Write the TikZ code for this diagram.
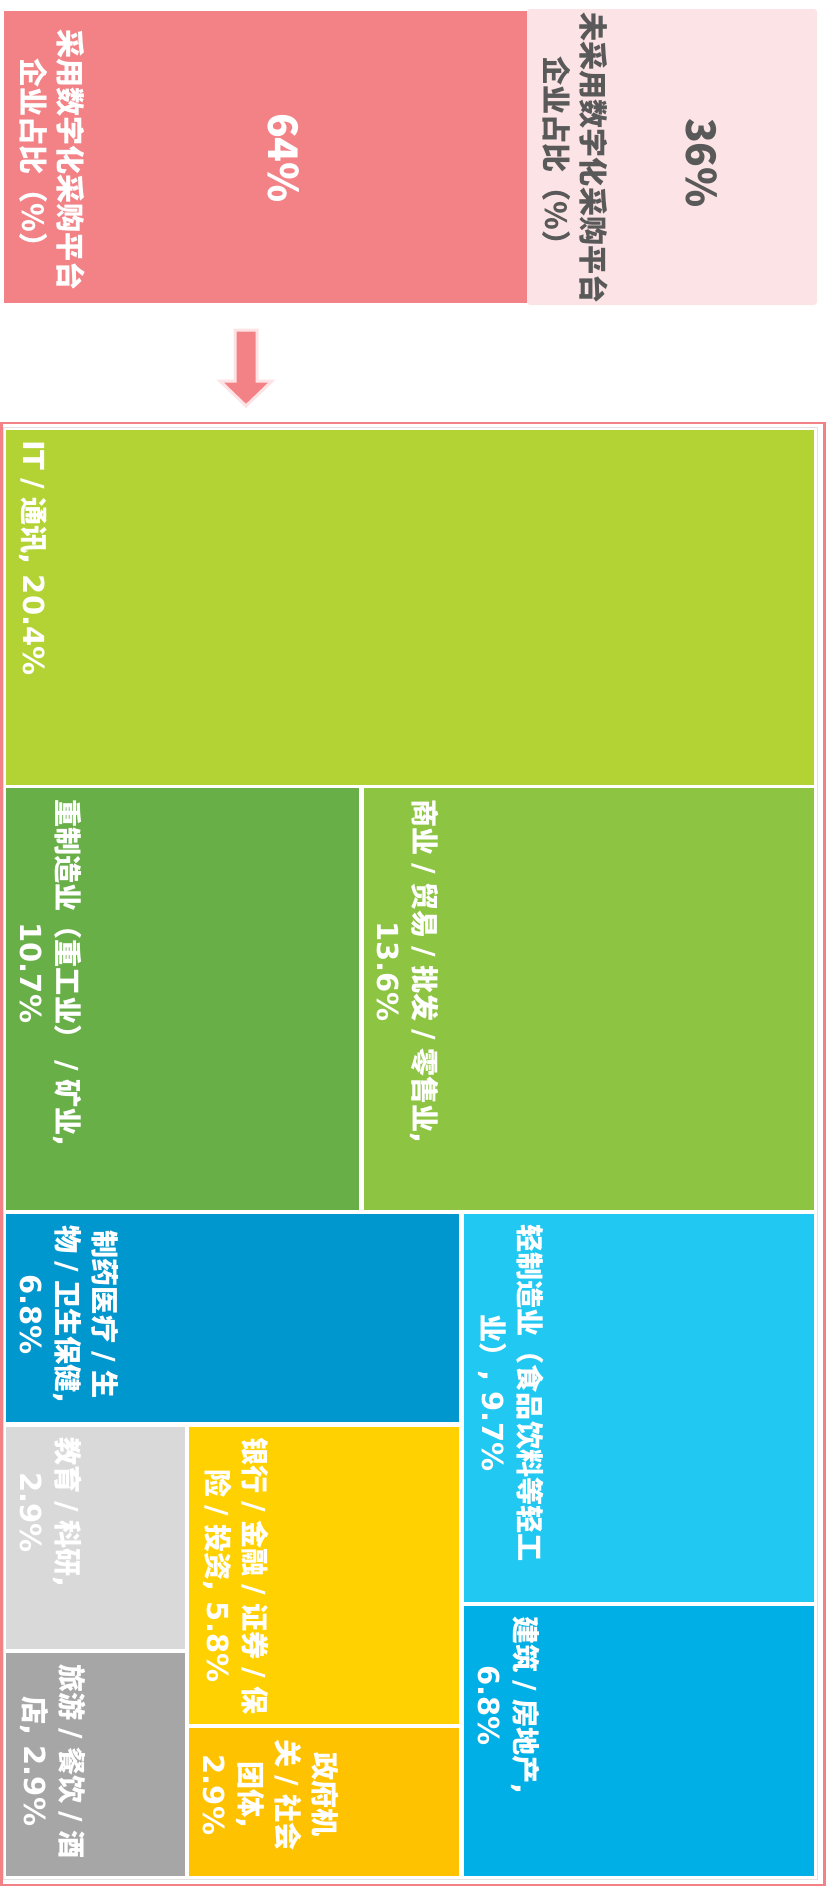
\documentclass[tikz,border=0pt]{standalone}
\usepackage{fontspec}
\setmainfont{DejaVu Sans}
\newfontfamily\cj{Noto Sans CJK SC}[Scale=0.97]
\newcommand\C[1]{{\cj #1}}
\newcommand\Sl{{\normalfont\bfseries\kern.28em/\kern.28em}}
\definecolor{pinkD}{HTML}{F28286}
\definecolor{pinkL}{HTML}{FCE4E6}
\definecolor{pinkE}{HTML}{FDE3E5}
\definecolor{grayT}{HTML}{595959}
\definecolor{cIT}{HTML}{B3D335}
\definecolor{cShang}{HTML}{8DC441}
\definecolor{cZhong}{HTML}{67AF46}
\definecolor{cQing}{HTML}{20C8F2}
\definecolor{cJian}{HTML}{00AFE5}
\definecolor{cYao}{HTML}{0097CF}
\definecolor{cYin}{HTML}{FFD100}
\definecolor{cZheng}{HTML}{FFC200}
\definecolor{cJiao}{HTML}{D9D9D9}
\definecolor{cLv}{HTML}{A6A6A6}
\definecolor{innerG}{HTML}{E2E2E2}
\begin{document}
\begin{tikzpicture}[x=1pt,y=-1pt,
  tile/.style={inner sep=0pt,outer sep=0pt,anchor=north west,draw=none},
  lab/.style={rotate=-90,anchor=south west,inner sep=0pt,align=center,text=white,
    font=\bfseries\fontsize{29}{37}\selectfont},
  toplab/.style={rotate=-90,anchor=center,inner sep=0pt,align=center,
    font=\bfseries\fontsize{30}{37}\selectfont},
  bignum/.style={rotate=-90,anchor=center,inner sep=0pt,
    font=\bfseries\fontsize{42}{42}\selectfont}]
\useasboundingbox (0,0) rectangle (828,1887);

% top comparison
\node[tile,fill=pinkL,rounded corners=3pt,minimum width=290pt,minimum height=296pt] (no) at (527,9) {};
\node[tile,fill=pinkD,minimum width=523pt,minimum height=292pt] (yes) at (4,11) {};
\node[toplab,text=white] (yesL) at (52,160) {\C{采用数字化采购平台}\\\C{企业占比（\%）}};
\node[bignum,text=white] (yesV) at (284,158) {\C{64\%}};
\node[toplab,text=grayT] (noL) at (575,158) {\C{未采用数字化采购平台}\\\C{企业占比（\%）}};
\node[bignum,text=grayT] (noV) at (702,163) {\C{36\%}};

% block arrow
\draw[fill=pinkD,draw=pinkE,line width=3pt,line join=miter]
  (235,330) -- (257,330) -- (257,381) -- (272,381) -- (246,406) -- (220,381) -- (235,381) -- cycle;

% frame
\draw[pinkD,line width=2.5pt] (1.5,423) rectangle (824.5,1885);
\draw[innerG,line width=1pt] (3.5,427.5) rectangle (817,1879.5);

% treemap tiles
\node[tile,fill=cIT,minimum width=808pt,minimum height=355pt] (it) at (6,430) {};
\node[tile,fill=cZhong,minimum width=353pt,minimum height=422pt] (zhong) at (6,788) {};
\node[tile,fill=cShang,minimum width=450pt,minimum height=422pt] (shang) at (364,788) {};
\node[tile,fill=cYao,minimum width=453pt,minimum height=208pt] (yao) at (6,1214) {};
\node[tile,fill=cQing,minimum width=350pt,minimum height=388pt] (qing) at (464,1214) {};
\node[tile,fill=cJian,minimum width=350pt,minimum height=270pt] (jian) at (464,1606) {};
\node[tile,fill=cJiao,minimum width=179pt,minimum height=222pt] (jiao) at (6,1427) {};
\node[tile,fill=cLv,minimum width=179pt,minimum height=223pt] (lv) at (6,1653) {};
\node[tile,fill=cYin,minimum width=270pt,minimum height=297pt] (yin) at (189,1427) {};
\node[tile,fill=cZheng,minimum width=270pt,minimum height=148pt] (zheng) at (189,1728) {};

% labels
\node[lab] (itL) at ([shift={(13,10)}]it.north west) {IT\Sl\C{通讯}, 20.4\%};
\node[lab] (zhongL) at ([shift={(14,11)}]zhong.north west) {\C{重制造业（重工业）}\Sl\C{矿业}, \\ 10.7\%};
\node[lab] (shangL) at ([shift={(13,11)}]shang.north west) {\C{商业\Sl 贸易\Sl 批发\Sl 零售业}, \\ 13.6\%};
\node[lab] (yaoL) at ([shift={(14,11)}]yao.north west) {\C{制药医疗\Sl 生}\\\C{物\Sl 卫生保健}, \\ 6.8\%};
\node[lab] (qingL) at ([shift={(14,10)}]qing.north west) {\C{轻制造业（食品饮料等轻工}\\\C{业）}, 9.7\%};
\node[lab] (jianL) at ([shift={(14,10)}]jian.north west) {\C{建筑\Sl 房地产}, \\ 6.8\%};
\node[lab] (jiaoL) at ([shift={(14,10)}]jiao.north west) {\C{教育\Sl 科研}, \\ 2.9\%};
\node[lab] (lvL) at ([shift={(14,11)}]lv.north west) {\C{旅游\Sl 餐饮\Sl 酒}\\\C{店}, 2.9\%};
\node[lab] (yinL) at ([shift={(14,10)}]yin.north west) {\C{银行\Sl 金融\Sl 证券\Sl 保}\\\C{险\Sl 投资}, 5.8\%};
\node[lab] (zhengL) at ([shift={(14,11)}]zheng.north west) {\C{政府机}\\\C{关\Sl 社会}\\\C{团体}, \\ 2.9\%};
\end{tikzpicture}
\end{document}
